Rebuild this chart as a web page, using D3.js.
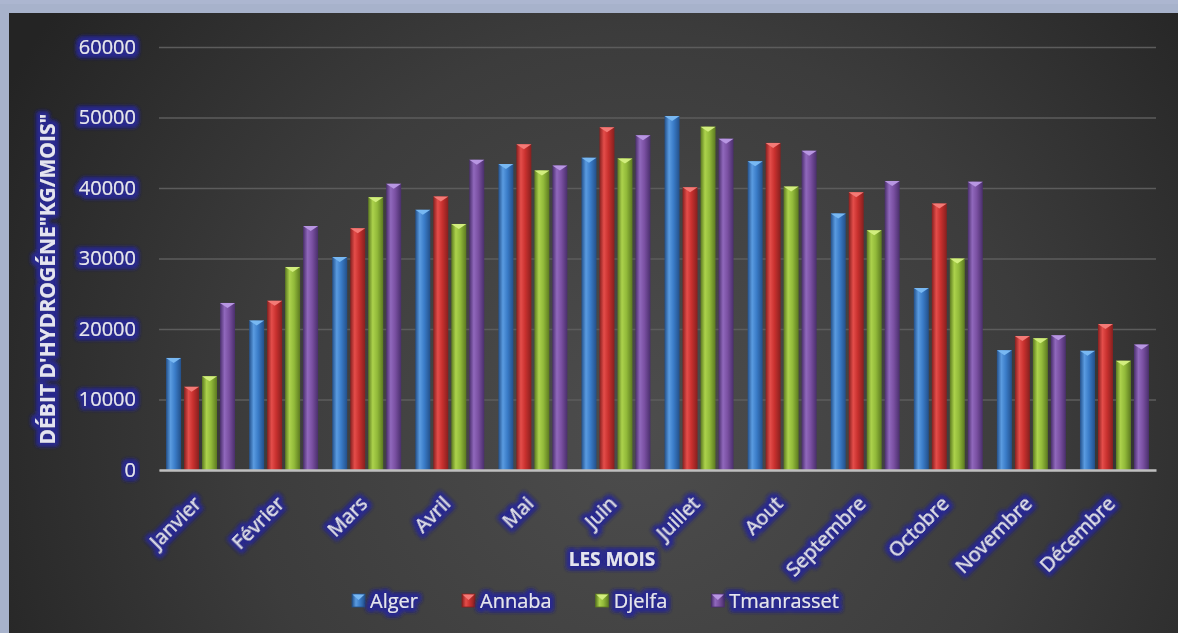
<!DOCTYPE html>
<html>
<head>
<meta charset="utf-8">
<script src="https://cdn.jsdelivr.net/npm/d3@7"></script>
<style>
  html, body { margin: 0; padding: 0; background: #a7b2cb; }
  svg { display: block; }
  text { font-family: "Open Sans", Lato, sans-serif; }
</style>
</head>
<body>
<svg id="chart" width="1178" height="633"></svg>
<script>
// Monthly hydrogen production per site (kg/month)
const months = ["Janvier","Février","Mars","Avril","Mai","Juin","Juillet","Aout","Septembre","Octobre","Novembre","Décembre"];
const seriesNames = ["Alger","Annaba","Djelfa","Tmanrasset"];
const alger      = [15900, 21200, 30200, 36900, 43400, 44300, 50200, 43800, 36400, 25800, 17000, 16900];
const annaba     = [11800, 24000, 34300, 38800, 46200, 48600, 40100, 46400, 39400, 37800, 19000, 20700];
const djelfa     = [13300, 28800, 38700, 34900, 42500, 44200, 48700, 40200, 34000, 30000, 18700, 15500];
const tmanrasset = [23700, 34600, 40600, 44000, 43200, 47500, 47000, 45300, 41000, 40900, 19100, 17800];
const yTicks = [0, 10000, 20000, 30000, 40000, 50000, 60000];

const seriesValues = [alger, annaba, djelfa, tmanrasset];
const palette = {
  Alger:      { dark: "#23508a", light: "#5a9be0", base: "#3a7cc8", cap: "#78b8f2" },
  Annaba:     { dark: "#86201f", light: "#e44d4a", base: "#c8302e", cap: "#f47a76" },
  Djelfa:     { dark: "#5c7a20", light: "#acd24c", base: "#92ba3a", cap: "#d2ee7e" },
  Tmanrasset: { dark: "#4a2f6c", light: "#9068bc", base: "#7a50a2", cap: "#b896e2" }
};

const W = 1178, H = 633;
const plot = { left: 159, right: 1156, top: 47, bottom: 470 };
const labelFont = 20;

const svg = d3.select("#chart");
const defs = svg.append("defs");

// dark panel shading
const bg = defs.append("radialGradient").attr("id", "panelGrad")
  .attr("gradientUnits", "userSpaceOnUse")
  .attr("cx", 640).attr("cy", 430).attr("r", 720);
bg.append("stop").attr("offset", 0).attr("stop-color", "#4d4d4d");
bg.append("stop").attr("offset", 0.55).attr("stop-color", "#3c3c3c");
bg.append("stop").attr("offset", 1).attr("stop-color", "#242424");

// cylinder-like shading for each series
seriesNames.forEach((s, i) => {
  const c = palette[s];
  const g = defs.append("linearGradient").attr("id", "bar" + i)
    .attr("x1", 0).attr("x2", 1).attr("y1", 0).attr("y2", 0);
  g.append("stop").attr("offset", 0).attr("stop-color", c.dark);
  g.append("stop").attr("offset", 0.3).attr("stop-color", c.light);
  g.append("stop").attr("offset", 0.6).attr("stop-color", c.base);
  g.append("stop").attr("offset", 1).attr("stop-color", c.dark);
});

// navy halo around labels
const glow = defs.append("filter").attr("id", "glow")
  .attr("x", "-30%").attr("y", "-60%").attr("width", "160%").attr("height", "220%");
glow.append("feMorphology").attr("in", "SourceAlpha").attr("operator", "dilate").attr("radius", 2.6).attr("result", "d");
glow.append("feGaussianBlur").attr("in", "d").attr("stdDeviation", 2).attr("result", "b");
glow.append("feFlood").attr("flood-color", "#2a2a8e").attr("result", "f");
glow.append("feComposite").attr("in", "f").attr("in2", "b").attr("operator", "in").attr("result", "g");
const gm = glow.append("feMerge");
gm.append("feMergeNode").attr("in", "g");
gm.append("feMergeNode").attr("in", "g");
gm.append("feMergeNode").attr("in", "SourceGraphic");

// frame and panel
svg.append("rect").attr("width", W).attr("height", H).attr("fill", "#a7b2cb");
svg.append("rect").attr("width", W).attr("height", 4).attr("fill", "#acb6d0");
svg.append("rect").attr("x", 9).attr("y", 13).attr("width", W - 9).attr("height", H - 13).attr("fill", "url(#panelGrad)");

// scales
const x0 = d3.scaleBand().domain(months).range([plot.left, plot.right])
  .paddingInner(0.17).paddingOuter(0.085);
const x1 = d3.scaleBand().domain(seriesNames).range([0, x0.bandwidth()])
  .paddingInner(3 / 18).paddingOuter(0);
const y = d3.scaleLinear().domain([0, 60000]).range([plot.bottom, plot.top]);

const labelColor = "#e4e4f0";

// value axis with gridlines
const yAxis = svg.append("g").attr("transform", `translate(${plot.left},0)`)
  .call(d3.axisLeft(y).tickValues(yTicks).tickFormat(d3.format("d"))
    .tickSize(-(plot.right - plot.left)).tickPadding(23));
yAxis.select(".domain").remove();
yAxis.selectAll(".tick line").attr("stroke", "#5c5c5c").attr("stroke-width", 1.5);
yAxis.selectAll(".tick text")
  .attr("fill", labelColor).attr("font-size", labelFont).attr("filter", "url(#glow)");

// bars
const groups = svg.append("g").selectAll("g").data(months).join("g")
  .attr("transform", d => `translate(${x0(d)},0)`);

seriesNames.forEach((s, si) => {
  const vals = seriesValues[si];
  const bw = x1.bandwidth();
  const bx = x1(s);
  groups.append("rect")
    .attr("x", bx)
    .attr("y", (d, mi) => y(vals[mi]))
    .attr("width", bw)
    .attr("height", (d, mi) => y(0) - y(vals[mi]))
    .attr("fill", `url(#bar${si})`);
  groups.append("path")
    .attr("d", (d, mi) => {
      const t = y(vals[mi]);
      return `M${bx},${t}L${bx + bw},${t}L${bx + bw / 2},${t + 5}Z`;
    })
    .attr("fill", palette[s].cap);
});

// category axis
const xAxis = svg.append("g").attr("transform", `translate(0,${plot.bottom})`)
  .call(d3.axisBottom(x0).tickSize(0).tickSizeOuter(0));
xAxis.select(".domain").attr("stroke", "#bfbfbf").attr("stroke-width", 2.5);
xAxis.selectAll(".tick text")
  .attr("x", 0).attr("y", 0).attr("dy", 0)
  .attr("text-anchor", "end")
  .attr("transform", "translate(2,35) rotate(-45)")
  .attr("fill", labelColor).attr("font-size", labelFont).attr("filter", "url(#glow)");

// axis titles
svg.append("text")
  .attr("transform", "translate(55,279) rotate(-90)")
  .attr("text-anchor", "middle")
  .attr("font-size", 21).attr("font-weight", "bold")
  .attr("fill", labelColor).attr("filter", "url(#glow)")
  .text("DÉBIT D'HYDROGÉNE\"KG/MOIS\"");

svg.append("text")
  .attr("x", 612).attr("y", 566)
  .attr("text-anchor", "middle")
  .attr("font-size", 19).attr("font-weight", "bold")
  .attr("fill", labelColor).attr("filter", "url(#glow)")
  .text("LES MOIS");

// legend
const legend = svg.append("g");
let lx = 0;
seriesNames.forEach((s, si) => {
  const item = legend.append("g").attr("transform", `translate(${lx},0)`);
  item.append("rect").attr("x", 0).attr("y", -7).attr("width", 13).attr("height", 13)
    .attr("fill", `url(#bar${si})`).attr("stroke", palette[s].dark).attr("stroke-width", 0.8);
  item.append("path").attr("d", "M0.5,-6.5L12.5,-6.5L6.5,-1Z").attr("fill", palette[s].cap);
  const t = item.append("text").attr("x", 18).attr("y", 0).attr("dy", "0.35em")
    .attr("font-size", labelFont).attr("fill", labelColor).attr("filter", "url(#glow)")
    .text(s);
  lx += 18 + t.node().getComputedTextLength() + 44;
});
const legendW = lx - 44;
legend.attr("transform", `translate(${595.5 - legendW / 2},601)`);
</script>
</body>
</html>
